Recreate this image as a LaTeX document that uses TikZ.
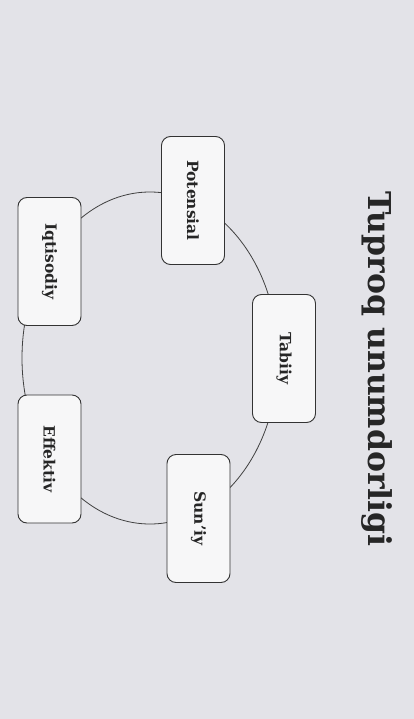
\documentclass[tikz,border=0pt]{standalone}
\usepackage{fontspec}
\setmainfont{DejaVu Serif}
\definecolor{bgcol}{HTML}{E3E3E8}
\definecolor{cardfill}{HTML}{F7F7F8}
\begin{document}
\begin{tikzpicture}[x=1pt,y=-1pt,
  card/.style={draw=black!80, line width=0.9pt, fill=cardfill, rounded corners=9pt,
    rotate=-90, minimum width=128pt, minimum height=63pt, inner sep=0pt,
    font=\bfseries\fontsize{15.5}{17}\selectfont, text=black!85},
  ring/.style={draw=black!75, line width=0.8pt}]
\fill[bgcol] (0,0) rectangle (414,719);
\useasboundingbox (0,0) rectangle (414,719);
\coordinate (c) at (150,358);
\draw[ring] (c) ellipse [x radius=128, y radius=166];
\node[card] (pot) at (193,200.5) {Potensial};
\node[card] (tab) at (284,358.5) {Tabiiy};
\node[card] (sun) at (198.5,518.5) {Sun'iy};
\node[card] (iqt) at (49.5,261.5) {Iqtisodiy};
\node[card] (eff) at (49.5,459) {Effektiv};
\node[rotate=-90, font=\bfseries\fontsize{31.5}{34}\selectfont, text=black!85] (title) at (377,369) {Tuproq unumdorligi};
\end{tikzpicture}
\end{document}
